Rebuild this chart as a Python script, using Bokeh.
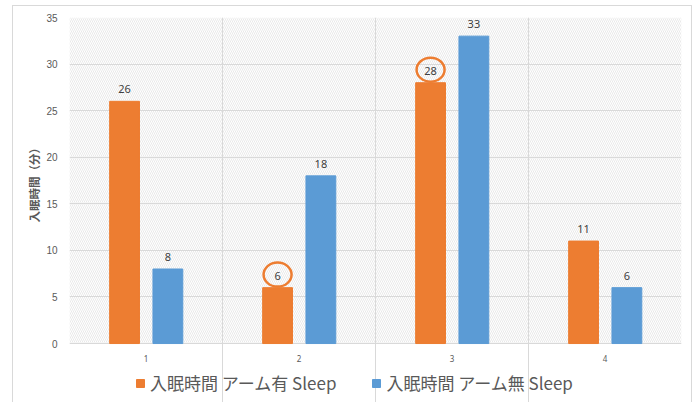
from bokeh.plotting import figure
from bokeh.models import (Range1d, FixedTicker, Grid, Legend, LegendItem,
                          ColumnDataSource, Title)
from bokeh.core.properties import value
from bokeh.transform import dodge
from bokeh.embed import file_html
from bokeh.resources import INLINE

# Sleep-onset time per trial (minutes)
trials = [1, 2, 3, 4]
tick_labels = ["1", "2", "3", "4"]
with_arm = [26, 6, 28, 11]       # 入眠時間 アーム有 Sleep
without_arm = [8, 18, 33, 6]     # 入眠時間 アーム無 Sleep
series_names = ["入眠時間 アーム有 Sleep", "入眠時間 アーム無 Sleep"]
y_label = "入眠時間（分）"
y_ticks = [0, 5, 10, 15, 20, 25, 30, 35]
# highlighted labels: (trial, series index)
highlighted = [(2, 0), (3, 0)]

ORANGE = "#ED7D31"
BLUE = "#5B9BD5"
GREY_TXT = "#595959"
GRID = "#d9d9d9"
FONT = "Noto Sans CJK JP"

Y_MAX = 35
Y_FLOOR = -6.33   # space under the value axis for category labels and legend

src = ColumnDataSource(dict(
    x=trials, a=with_arm, b=without_arm,
    a_lab=[str(v) for v in with_arm], b_lab=[str(v) for v in without_arm],
    a_top=[v + 1.3 for v in with_arm], b_top=[v + 1.3 for v in without_arm],
    zero=[0] * len(trials), cat=tick_labels,
))

p = figure(width=680, height=400, output_backend="svg", toolbar_location=None,
           x_range=Range1d(0.5, 4.5), y_range=Range1d(Y_FLOOR, Y_MAX),
           x_axis_location=None,
           min_border_left=56, min_border_right=12, min_border_top=11,
           min_border_bottom=4)
p.styles = {"border": "1px solid #d9d9d9", "margin-left": "12px", "margin-top": "5px"}
p.outline_line_color = None
p.background_fill_color = "white"

# hatched plot area background
p.quad(left=[0.5], right=[4.5], bottom=[0], top=[Y_MAX], fill_color="white",
       line_color=None, hatch_pattern="\\", hatch_color="#e0e0e0",
       hatch_scale=4, hatch_weight=0.7, level="image")

OFF = 0.14
W = 0.195
ra = p.vbar(x=dodge("x", -OFF), top="a", width=W, source=src, color=ORANGE)
rb = p.vbar(x=dodge("x", OFF + 0.003), top="b", width=W, source=src, color=BLUE)

# value labels
for col_x, col_y, col_t in ((-OFF, "a_top", "a_lab"), (OFF + 0.003, "b_top", "b_lab")):
    p.text(x=dodge("x", col_x), y=col_y, text=col_t, source=src,
           text_align="center", text_baseline="middle", text_font=value("Noto Sans"),
           text_font_size="11px", text_color="#404040")

# category labels under the value axis
p.text(x="x", y="zero", text="cat", source=src, y_offset=15,
       text_align="center", text_baseline="middle", text_font=value("Noto Sans"),
       text_font_size="8px", text_color=GREY_TXT)

# circles around highlighted labels
hx, hy = [], []
for t, s in highlighted:
    i = trials.index(t)
    vals = with_arm if s == 0 else without_arm
    hx.append(t + (-OFF if s == 0 else OFF))
    hy.append(vals[i] + 1.4)
p.ellipse(x=hx, y=hy, width=28, height=24, width_units="screen",
          height_units="screen", fill_color=None, line_color=ORANGE, line_width=2.5)

# grid: horizontal at value ticks, vertical at category boundaries
p.xgrid.visible = False
p.ygrid.grid_line_color = GRID
p.ygrid.ticker = FixedTicker(ticks=y_ticks)
p.add_layout(Grid(dimension=0, ticker=FixedTicker(ticks=[0.5, 1.5, 2.5, 3.5, 4.5]),
                  bounds=(0, Y_MAX), grid_line_color=GRID))

# value axis
p.yaxis.ticker = FixedTicker(ticks=y_ticks)
p.yaxis.axis_line_color = None
p.yaxis.major_tick_line_color = None
p.yaxis.minor_tick_line_color = None
p.yaxis.major_label_text_font_size = "10px"
p.yaxis.major_label_text_color = GREY_TXT
p.yaxis.major_label_standoff = 6

p.add_layout(Title(text=y_label, align="left", offset=180,
                   text_font=FONT, text_font_size="11.5px", text_font_style="bold",
                   text_color=GREY_TXT, standoff=4), "left")

legend = Legend(items=[LegendItem(label=series_names[0], renderers=[ra]),
                       LegendItem(label=series_names[1], renderers=[rb])],
                orientation="horizontal", location=(66, 7),
                glyph_width=10, glyph_height=10, label_standoff=5, spacing=35,
                label_text_font=FONT, label_text_font_size="17px",
                label_text_color=GREY_TXT, padding=0, margin=0,
                border_line_color=None, background_fill_alpha=0)
p.add_layout(legend, "center")

open("out.html", "w").write(file_html(p, INLINE))
